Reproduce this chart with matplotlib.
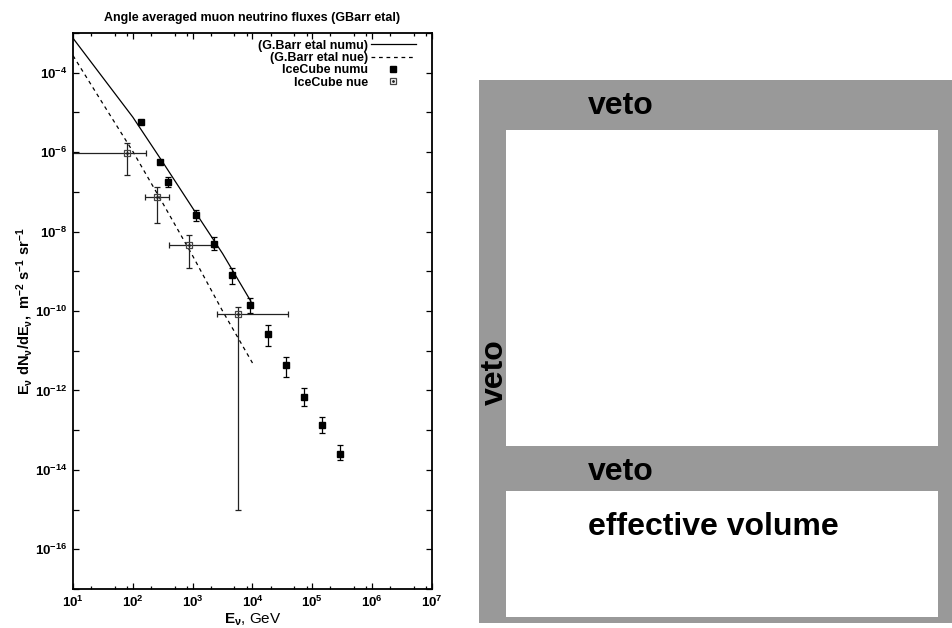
import matplotlib
matplotlib.use("Agg")
import matplotlib.pyplot as plt
from matplotlib.lines import Line2D
from matplotlib.patches import Rectangle
from matplotlib.legend_handler import HandlerTuple
from matplotlib.ticker import FixedLocator, NullFormatter

plt.rcParams['font.family'] = ['Liberation Sans', 'DejaVu Sans']
plt.rcParams['font.weight'] = 'bold'
plt.rcParams['mathtext.fontset'] = 'custom'
plt.rcParams['mathtext.bf'] = 'Liberation Sans:bold'
plt.rcParams['mathtext.rm'] = 'Liberation Sans:bold'
plt.rcParams['mathtext.it'] = 'Liberation Sans:bold'
plt.rcParams['mathtext.default'] = 'bf'

# model curves (G.Barr etal)
barr_numu_E = [10, 31.6, 100, 316, 1000, 3160, 9400]
barr_numu_F = [7.4e-4, 7.5e-5, 7.6e-6, 5.6e-7, 3.9e-8, 2.8e-9, 1.75e-10]
barr_nue_E = [10, 31.6, 100, 316, 1000, 3160, 10000]
barr_nue_F = [2.7e-4, 1.66e-5, 1.04e-6, 5.2e-8, 2.45e-9, 1.0e-10, 4.9e-12]

# IceCube numu
numu_E = [139, 288, 392, 1125, 2300, 4600, 9200, 18150, 36700, 73500, 1.47e5, 2.94e5]
numu_F = [5.8e-6, 5.7e-7, 1.8e-7, 2.6e-8, 4.9e-9, 8.1e-10, 1.4e-10, 2.6e-11,
          4.4e-12, 6.8e-13, 1.35e-13, 2.5e-14]
numu_lo = [5.8e-6, 5.7e-7, 1.34e-7, 1.9e-8, 3.46e-9, 4.8e-10, 8.9e-11, 1.29e-11,
           2.17e-12, 4.04e-13, 8.55e-14, 1.82e-14]
numu_hi = [5.8e-6, 5.7e-7, 2.3e-7, 3.59e-8, 7.2e-9, 1.22e-9, 2.17e-10, 4.35e-11,
           6.8e-12, 1.12e-12, 2.2e-13, 4.33e-14]

# IceCube nue
nue_E = [81, 257, 869, 5800]
nue_F = [9.7e-7, 7.5e-8, 4.7e-9, 8.2e-11]
nue_lo = [2.63e-7, 1.66e-8, 1.22e-9, 9.8e-16]
nue_hi = [1.66e-6, 1.34e-7, 8.4e-9, 1.29e-10]
nue_Elo = [4, 162, 407, 2510]
nue_Ehi = [164, 407, 2200, 39800]

fig = plt.figure(figsize=(9.53, 6.28), dpi=100)

# detector sketch on the right
ax2 = fig.add_axes([0, 0, 1, 1])
ax2.set_xlim(0, 953)
ax2.set_ylim(628, 0)
ax2.axis('off')
grey = '#999999'
ax2.add_patch(Rectangle((479, 80), 473, 543, color=grey, lw=0))
ax2.add_patch(Rectangle((506, 130), 432, 316, color='white', lw=0))
ax2.add_patch(Rectangle((506, 491), 432, 126, color='white', lw=0))
ax2.text(588, 106, "veto", fontsize=23, fontweight='bold', va='center', ha='left')
ax2.text(495, 372, "veto", fontsize=23, fontweight='bold', va='center', ha='center', rotation=90)
ax2.text(588, 472, "veto", fontsize=23, fontweight='bold', va='center', ha='left')
ax2.text(588, 527, "effective volume", fontsize=23, fontweight='bold', va='center', ha='left')

ax = fig.add_axes([73/953, 1-589/628, 359/953, 556/628])
ax.set_xscale('log')
ax.set_yscale('log')
ax.set_xlim(10, 1e7)
ax.set_ylim(1e-17, 1e-3)

ax.plot(barr_numu_E, barr_numu_F, color='black', lw=0.9)
ax.plot(barr_nue_E, barr_nue_F, color='black', lw=0.9, ls=(0, (3, 3)))

yerr = [[f - lo for f, lo in zip(numu_F, numu_lo)], [hi - f for f, hi in zip(numu_F, numu_hi)]]
ax.errorbar(numu_E, numu_F, yerr=yerr, fmt='s', color='black', ms=5, lw=0.9, capsize=2.5, capthick=0.9)

nyerr = [[f - lo for f, lo in zip(nue_F, nue_lo)], [hi - f for f, hi in zip(nue_F, nue_hi)]]
nxerr = [[e - lo for e, lo in zip(nue_E, nue_Elo)], [hi - e for e, hi in zip(nue_E, nue_Ehi)]]
ax.errorbar(nue_E, nue_F, xerr=nxerr, yerr=nyerr, fmt='s', color='#222222', mfc='none',
            mec='#444444', ms=5, mew=0.9, lw=0.9, capsize=2.5, capthick=0.9)
ax.plot(nue_E, nue_F, '.', color='#222222', ms=2)

ax.set_yticks([10.0**e for e in range(-17, -2)])
ax.set_yticklabels([r'$10^{%d}$' % e if e % 2 == 0 else '' for e in range(-17, -2)])
ax.set_xticks([10.0**e for e in range(1, 8)])
ax.set_xticklabels([r'$10^{%d}$' % e for e in range(1, 8)])
ax.xaxis.set_minor_locator(FixedLocator([m * 10.0**e for e in range(1, 7) for m in (2, 5, 8)]))
ax.xaxis.set_minor_formatter(NullFormatter())
ax.yaxis.set_minor_locator(FixedLocator([]))
ax.tick_params(which='both', direction='in', top=True, right=True, labelsize=9.5, width=0.9)
ax.tick_params(which='major', length=4.5, pad=4)
ax.tick_params(which='minor', length=2.5)
for s in ax.spines.values():
    s.set_linewidth(1.3)

ax.set_title("Angle averaged muon neutrino fluxes (GBarr etal)", fontsize=9, fontweight='bold', pad=9)
ax.set_xlabel(r'$E_\nu$, GeV', fontsize=11, labelpad=1)
ax.set_ylabel(r'$E_\nu\ dN_\nu/dE_\nu,\ m^{-2}\ s^{-1}\ sr^{-1}$', fontsize=10.5, labelpad=0)

h1 = Line2D([], [], color='black', lw=0.9)
h2 = Line2D([], [], color='black', lw=0.9, ls=(0, (3, 3)))
h3 = Line2D([], [], marker='s', color='black', ls='none', ms=5)
h4a = Line2D([], [], marker='s', ls='none', mfc='none', mec='#444444', ms=5, mew=0.9)
h4b = Line2D([], [], marker='.', ls='none', color='#222222', ms=2)
ax.legend([h1, h2, h3, (h4a, h4b)],
          ["(G.Barr etal numu)", "(G.Barr etal nue)", "IceCube numu", "IceCube nue"],
          handler_map={tuple: HandlerTuple(ndivide=1, pad=0)},
          loc='upper right', bbox_to_anchor=(0.955, 0.988), borderaxespad=0, borderpad=0,
          frameon=False, markerfirst=False, fontsize=9, labelspacing=0.03,
          handlelength=3.6, handletextpad=0.25)

fig.savefig('out.png', dpi=100)
